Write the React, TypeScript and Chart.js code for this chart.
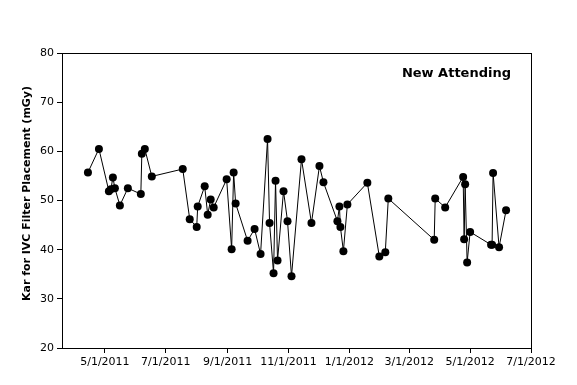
import React, { useEffect, useRef } from "react";
import { Chart, registerables } from "chart.js";

Chart.register(...registerables);

// Procedure dates and Kar (mGy) values
const dates: string[] = [
  "2011-04-14", "2011-04-25", "2011-05-05", "2011-05-07", "2011-05-09", "2011-05-11",
  "2011-05-16", "2011-05-24", "2011-06-06", "2011-06-07", "2011-06-10", "2011-06-17",
  "2011-07-18", "2011-07-25", "2011-08-01", "2011-08-02", "2011-08-09", "2011-08-12",
  "2011-08-15", "2011-08-18", "2011-08-31", "2011-09-05", "2011-09-07", "2011-09-09",
  "2011-09-21", "2011-09-28", "2011-10-04", "2011-10-11", "2011-10-13", "2011-10-17",
  "2011-10-19", "2011-10-21", "2011-10-27", "2011-10-31", "2011-11-04", "2011-11-14",
  "2011-11-24", "2011-12-02", "2011-12-06", "2011-12-20", "2011-12-22", "2011-12-23",
  "2011-12-26", "2011-12-30", "2012-01-19", "2012-01-31", "2012-02-06", "2012-02-09",
  "2012-03-26", "2012-03-27", "2012-04-06", "2012-04-24", "2012-04-25", "2012-04-26",
  "2012-04-28", "2012-05-01", "2012-05-22", "2012-05-23", "2012-05-24", "2012-05-30",
  "2012-06-06",
];
const kar: number[] = [
  55.7, 60.5, 51.9, 52.3, 54.7, 52.5,
  49.0, 52.5, 51.3, 59.5, 60.5, 54.9,
  56.4, 46.2, 44.6, 48.8, 52.9, 47.1,
  50.2, 48.6, 54.3, 40.1, 55.7, 49.4,
  41.8, 44.2, 39.1, 62.5, 45.4, 35.2,
  54.0, 37.8, 51.9, 45.8, 34.6, 58.4,
  45.4, 57.0, 53.7, 45.8, 48.8, 44.6,
  39.7, 49.2, 53.6, 38.6, 39.5, 50.4,
  42.0, 50.4, 48.6, 54.8, 42.1, 53.3,
  37.4, 43.6, 41.0, 41.0, 55.6, 40.5,
  48.0,
];

const tickDates: string[] = [
  "2011-05-01", "2011-07-01", "2011-09-01", "2011-11-01",
  "2012-01-01", "2012-03-01", "2012-05-01", "2012-07-01",
];
const tickLabels: string[] = [
  "5/1/2011", "7/1/2011", "9/1/2011", "11/1/2011",
  "1/1/2012", "3/1/2012", "5/1/2012", "7/1/2012",
];
const xMinDate = "2011-03-19";
const xMaxDate = "2012-07-01";
const yMin = 20;
const yMax = 80;
const yStep = 10;

const chartTitle = "New Attending";
const yTitle = "Kar for IVC Filter Placement (mGy)";

const BASE = Date.UTC(2011, 0, 1);
function toDay(s: string): number {
  const [y, m, d] = s.split("-").map(Number);
  return (Date.UTC(y, m - 1, d) - BASE) / 86400000;
}

const FONT = "'DejaVu Sans', Verdana, sans-serif";

export default function App() {
  const ref = useRef<HTMLCanvasElement | null>(null);

  useEffect(() => {
    if (!ref.current) return;
    const points = dates.map((d, i) => ({ x: toDay(d), y: kar[i] }));
    const tickDays = tickDates.map(toDay);

    const framePlugin = {
      id: "frameAndText",
      afterDraw(chart: any) {
        const { ctx, chartArea } = chart;
        ctx.save();
        ctx.strokeStyle = "#000";
        ctx.lineWidth = 1;
        ctx.strokeRect(
          Math.round(chartArea.left) + 0.5,
          Math.round(chartArea.top) + 0.5,
          Math.round(chartArea.right - chartArea.left),
          Math.round(chartArea.bottom - chartArea.top)
        );
        // chart label
        ctx.fillStyle = "#000";
        ctx.font = `bold 13px ${FONT}`;
        ctx.textAlign = "right";
        ctx.textBaseline = "alphabetic";
        ctx.fillText(chartTitle, chartArea.right - 20, chartArea.top + 24);
        // y axis title
        ctx.translate(27, (chartArea.top + chartArea.bottom) / 2 - 7);
        ctx.rotate(-Math.PI / 2);
        ctx.font = `bold 11px ${FONT}`;
        ctx.textAlign = "center";
        ctx.textBaseline = "middle";
        ctx.fillText(yTitle, 0, 0);
        ctx.restore();
      },
    };

    const chart = new Chart(ref.current, {
      type: "line",
      data: {
        datasets: [
          {
            data: points,
            borderColor: "#000",
            backgroundColor: "#000",
            borderWidth: 1,
            pointRadius: 4,
            pointBackgroundColor: "#000",
            pointBorderColor: "#000",
            pointBorderWidth: 0,
            tension: 0,
          },
        ],
      },
      options: {
        animation: false,
        responsive: false,
        devicePixelRatio: 1,
        layout: { padding: { top: 53, right: 46, bottom: 0, left: 0 } },
        plugins: {
          legend: { display: false },
          tooltip: { enabled: false },
          title: { display: false },
        },
        scales: {
          x: {
            type: "linear",
            min: toDay(xMinDate),
            max: toDay(xMaxDate),
            afterBuildTicks: (axis: any) => {
              axis.ticks = tickDays.map((v) => ({ value: v }));
            },
            afterFit: (scale: any) => {
              scale.height = 37;
            },
            grid: {
              display: true,
              drawOnChartArea: false,
              drawTicks: true,
              tickLength: 5,
              color: "#000",
            },
            border: { display: true, color: "#000" },
            ticks: {
              autoSkip: false,
              maxRotation: 0,
              minRotation: 0,
              padding: 3,
              color: "#000",
              font: { family: FONT, size: 11 },
              callback: (_v: any, i: number) => tickLabels[i],
            },
          },
          y: {
            type: "linear",
            min: yMin,
            max: yMax,
            afterFit: (scale: any) => {
              scale.width = 62;
            },
            grid: {
              display: true,
              drawOnChartArea: false,
              drawTicks: true,
              tickLength: 5,
              color: "#000",
            },
            border: { display: true, color: "#000" },
            ticks: {
              stepSize: yStep,
              padding: 3,
              color: "#000",
              font: { family: FONT, size: 11 },
            },
          },
        },
      },
      plugins: [framePlugin],
    } as any);

    return () => chart.destroy();
  }, []);

  return (
    <div style={{ position: "absolute", left: 0, top: 0, width: 577, height: 385, background: "#fff" }}>
      <canvas ref={ref} width={577} height={385} />
    </div>
  );
}
